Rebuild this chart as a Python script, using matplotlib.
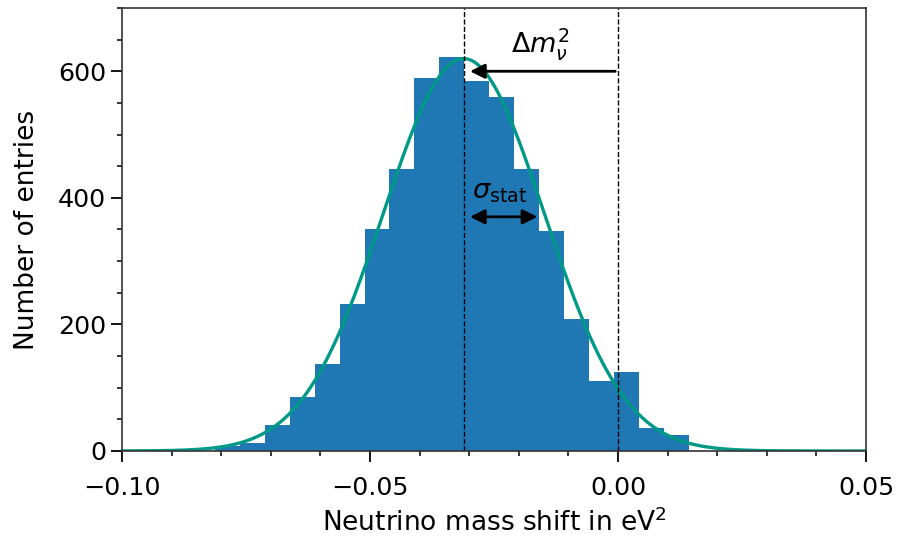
import matplotlib
matplotlib.use("Agg")
import matplotlib.pyplot as plt
import numpy as np

# histogram of fitted mass shifts (counts)
edge_lo = -0.0813
edge_hi = 0.0143
counts = [8, 13, 41, 86, 137, 232, 350, 445, 590, 623,
          584, 559, 445, 347, 208, 110, 125, 36, 25]

# gaussian fit parameters
amp = 620.0
mu = -0.0311
sigma = 0.0162

true_shift = 0.0
sigma_arrow_end = -0.0157
arrow_y_dm = 600
arrow_y_sig = 370

fig = plt.figure(figsize=(8.98, 5.36), dpi=100)
ax = fig.add_axes([0.1359, 0.1586, 0.8285, 0.8265])

edges = np.linspace(edge_lo, edge_hi, len(counts) + 1)
ax.stairs(counts, edges, fill=True, color='#1f77b4')

xs = np.linspace(-0.1, 0.05, 600)
ax.plot(xs, amp * np.exp(-0.5 * ((xs - mu) / sigma) ** 2), color='#009988', lw=2.4)

ax.axvline(mu, color='k', ls='--', lw=1)
ax.axvline(true_shift, color='k', ls='--', lw=1)

ax.annotate('', xy=(mu + 0.0007, arrow_y_dm), xytext=(true_shift, arrow_y_dm),
            arrowprops=dict(arrowstyle='-|>', color='k', lw=2, mutation_scale=22))
ax.text(-0.0157, 643, r'$\Delta m^2_\nu$', ha='center', va='center', fontsize=19.5)

ax.annotate('', xy=(mu + 0.0007, arrow_y_sig), xytext=(sigma_arrow_end, arrow_y_sig),
            arrowprops=dict(arrowstyle='<|-|>', color='k', lw=2, mutation_scale=22))
ax.text(-0.0238, 410, r'$\sigma_{\mathrm{stat}}$', ha='center', va='center', fontsize=19.5)

ax.set_xlim(-0.1, 0.05)
ax.set_ylim(0, 700)
ax.set_xticks([-0.10, -0.05, 0.00, 0.05])
ax.set_xticklabels(['\u22120.10', '\u22120.05', '0.00', '0.05'])
ax.set_yticks([0, 200, 400, 600])
ax.set_xticks(np.arange(-0.1, 0.0501, 0.01), minor=True)
ax.set_yticks(np.arange(0, 701, 50), minor=True)
ax.tick_params(which='major', length=8, width=1.3, labelsize=18.3)
ax.tick_params(axis='x', which='major', pad=10)
ax.tick_params(which='minor', length=3.5, width=1.1)
for s in ax.spines.values():
    s.set_linewidth(1.2)
    s.set_color('#333333')

ax.set_xlabel('Neutrino mass shift in eV$^2$', fontsize=19, labelpad=6)
ax.set_ylabel('Number of entries', fontsize=19, labelpad=13)

fig.savefig('out.png', dpi=100)
